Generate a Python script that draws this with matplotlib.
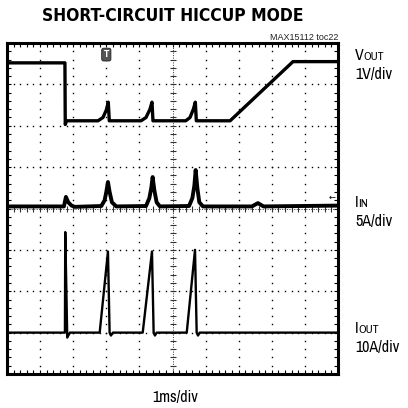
import numpy as np
import matplotlib
matplotlib.use('Agg')
from matplotlib import pyplot as plt

# scope screen in divisions: x 0..10 (1ms/div), y 0..8
vout_x = [0, 1.75, 1.76, 1.8, 2.75, 2.9, 3.0, 3.06, 3.09, 3.15,
          4.05, 4.2, 4.32, 4.38, 4.41, 4.47, 5.4, 5.53, 5.63, 5.69, 5.72, 5.78,
          6.74, 8.64, 10]
vout_y = [7.52, 7.52, 6.03, 6.12, 6.12, 6.2, 6.38, 6.57, 6.12, 6.12,
          6.12, 6.2, 6.4, 6.57, 6.12, 6.12, 6.12, 6.2, 6.4, 6.57, 6.12, 6.12,
          6.12, 7.55, 7.55]

iin_x = [0, 1.72, 1.78, 1.85, 1.95, 2.05, 2.85, 2.95, 3.0, 3.05, 3.1, 3.17, 3.3,
         4.2, 4.3, 4.36, 4.4, 4.45, 4.52, 4.62,
         5.5, 5.6, 5.66, 5.7, 5.75, 5.81, 5.92,
         7.4, 7.58, 7.75, 10]
iin_y = [4.05, 4.05, 4.28, 4.15, 4.07, 4.04, 4.06, 4.2, 4.4, 4.64, 4.4, 4.15, 4.05,
         4.06, 4.25, 4.5, 4.76, 4.45, 4.15, 4.05,
         4.06, 4.25, 4.55, 4.93, 4.5, 4.15, 4.05,
         4.05, 4.13, 4.05, 4.07]

iout_x = [0, 1.75, 1.76, 1.82, 1.9, 2.8, 3.05, 3.1, 3.14, 3.2,
          4.1, 4.38, 4.43, 4.47, 4.52, 5.43, 5.68, 5.73, 5.77, 5.82, 10]
iout_y = [1.0, 1.0, 3.43, 0.88, 1.0, 1.0, 2.96, 1.0, 0.93, 1.0,
          1.0, 2.96, 1.0, 0.93, 1.0, 1.0, 3.0, 1.0, 0.93, 1.0, 1.0]

fig = plt.figure(figsize=(4.08, 4.08), dpi=100)
ax = fig.add_axes([7/408, 34/408, 331/408, 331/408])
ax.set_xlim(0, 10)
ax.set_ylim(0, 8)

# dotted graticule
for gx in range(1, 10):
    if gx == 5:
        continue
    yy = np.arange(0.2, 8, 0.2)
    ax.plot([gx]*len(yy), yy, ls='none', marker='s', ms=1.0, color='black', mec='none')
for gy in range(1, 8):
    if gy == 4:
        continue
    xx = np.arange(0.2, 10, 0.2)
    ax.plot(xx, [gy]*len(xx), ls='none', marker='s', ms=1.0, color='black', mec='none')
# center crosshair with ticks
yy = np.arange(0.2, 8, 0.2)
ax.plot([5]*len(yy), yy, ls='none', marker='_', ms=5, mew=0.8, color='#333333')
ax.plot([5, 5], [0, 8], ls=(0, (1, 1.5)), lw=0.7, color='#333333')
xx = np.arange(0.2, 10, 0.2)
ax.plot(xx, [4]*len(xx), ls='none', marker='|', ms=5, mew=0.8, color='#333333')
ax.plot([0, 10], [4, 4], ls=(0, (1, 1.5)), lw=0.7, color='#333333')

ax.plot(vout_x, vout_y, color='black', lw=2.4, solid_joinstyle='round')
ax.plot(iin_x, iin_y, color='black', lw=2.8, solid_joinstyle='round')
ax.plot(iout_x, iout_y, color='black', lw=1.7, solid_joinstyle='round')

# trigger marker and IIN level marker
ax.text(3.0, 7.72, 'T', ha='center', va='center', fontsize=5.5, color='white',
        fontweight='bold',
        bbox=dict(boxstyle='round,pad=0.25', fc='#555555', ec='#222222', lw=0.6))
ax.text(9.82, 4.26, '\u2190', ha='center', va='center', fontsize=6, color='black',
        family='DejaVu Sans')

ax.set_xticks([])
ax.set_yticks([])
ax.set_xticks(np.arange(0, 10.01, 0.2), minor=True)
ax.set_yticks(np.arange(0, 8.01, 0.2), minor=True)
ax.tick_params(which='minor', direction='in', length=3, width=0.8,
               top=True, right=True, bottom=True, left=True,
               labelbottom=False, labelleft=False)
for s in ax.spines.values():
    s.set_linewidth(2.2)

fam = ['Archivo Narrow', 'DejaVu Sans']
fig.text(173/408, 1 - 21/408, 'SHORT-CIRCUIT HICCUP MODE', ha='center', va='baseline',
         fontsize=12.5, fontweight='bold', fontstretch='condensed', family='DejaVu Sans')
fig.text(338/408, 1 - 40/408, 'MAX15112 toc22', ha='right', va='baseline',
         fontsize=6.5, family=['Liberation Sans', 'DejaVu Sans'], color='#222222')

renderer = fig.canvas.get_renderer()

def chan(x, y_base, main, sub, scale):
    t = fig.text(x/408, 1 - y_base/408, main, ha='left', va='baseline',
                 fontsize=11.5, family=fam)
    bb = t.get_window_extent(renderer)
    fig.text((bb.x1 - 0.3)/408, 1 - y_base/408, sub,
             ha='left', va='baseline', fontsize=8.5, family=fam)
    fig.text(x/408, 1 - (y_base + 19)/408, scale, ha='left', va='baseline',
             fontsize=11.5, family=fam)

chan(355, 60, 'V', 'OUT', '1V/div')
chan(355, 207, 'I', 'IN', '5A/div')
chan(355, 333, 'I', 'OUT', '10A/div')

fig.text(175/408, 1 - 402/408, '1ms/div', ha='center', va='baseline',
         fontsize=11.5, family=fam)

fig.savefig('out.png', dpi=100)
